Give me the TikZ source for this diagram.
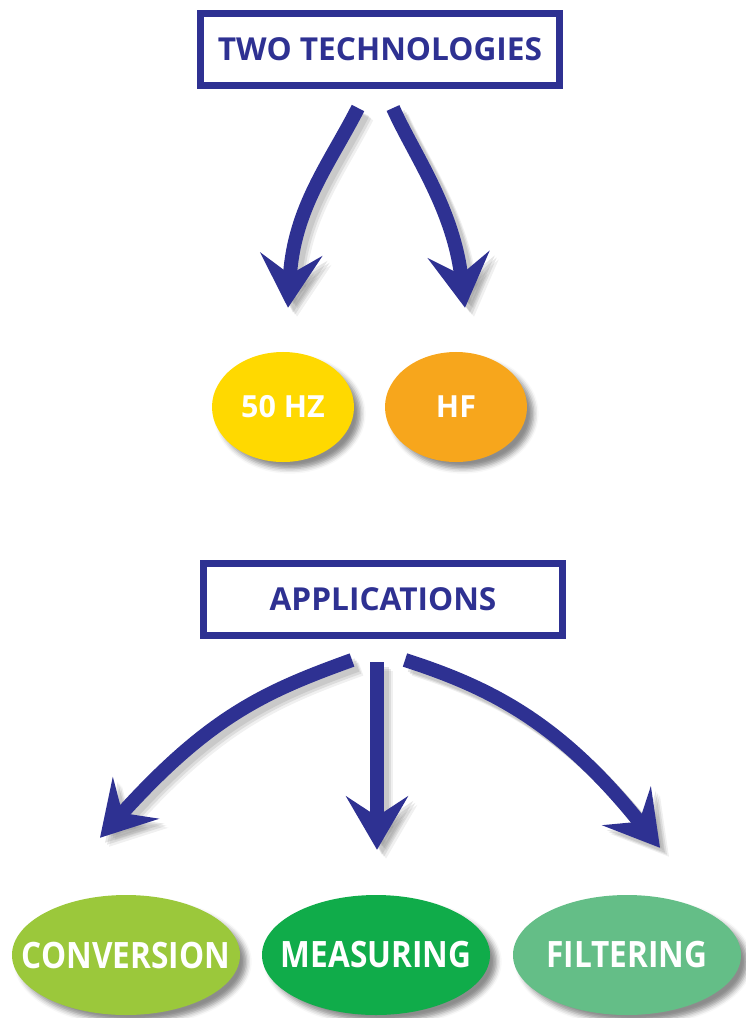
\documentclass[tikz,border=0pt]{standalone}
\usepackage{fontspec}
\setmainfont{Open Sans}
\newfontfamily\condfont[FakeStretch=0.87]{Open Sans}
\usepackage{tikz}
\usetikzlibrary{calc}
\usetikzlibrary{arrows.meta}
\usetikzlibrary{shapes.geometric}
\usetikzlibrary{shadows.blur}
\definecolor{navy}{RGB}{46,49,146}
\definecolor{hzyellow}{RGB}{255,217,0}
\definecolor{hforange}{RGB}{247,166,28}
\definecolor{convgreen}{RGB}{155,200,59}
\definecolor{measgreen}{RGB}{16,172,74}
\definecolor{filtgreen}{RGB}{100,190,135}

\begin{document}
\begin{tikzpicture}[x=0.03cm,y=-0.03cm,
  titlebox/.style={draw=navy,line width=6pt,minimum width=10.77cm,minimum height=2.16cm,inner sep=0pt,text=navy,font=\bfseries\fontsize{27}{32}\selectfont},
  disc/.style={ellipse,minimum width=4.26cm,minimum height=3.3cm,inner sep=0pt,text=white,font=\bfseries\fontsize{26}{30}\selectfont,
    blur shadow={shadow xshift=0.2cm,shadow yshift=-0.2cm,shadow blur radius=0.15cm,shadow opacity=45}},
  bigdisc/.style={disc,minimum width=6.84cm,minimum height=3.6cm,inner xsep=-1.5cm,inner ysep=-0.3cm,font=\condfont\bfseries\fontsize{31}{36}\selectfont},
  flow/.style={line width=0.42cm,-{Stealth[length=1.6cm,width=1.85cm,inset=0.6cm]}}]
  \useasboundingbox (0,0) rectangle (745,1018);

  \node[titlebox] (tech) at (380,49.5) {TWO TECHNOLOGIES};
  \node[disc,fill=hzyellow] (hz) at (283,407) {50 HZ};
  \node[disc,fill=hforange] (hf) at (456,407) {HF};

  \node[titlebox] (app) at (383,599.5) {APPLICATIONS};
  \node[bigdisc,fill=convgreen] (conv) at (126,955) {CONVERSION};
  \node[bigdisc,fill=measgreen] (meas) at (376,955) {MEASURING};
  \node[bigdisc,fill=filtgreen] (filt) at (627,955) {FILTERING};

  % arrow ends
  \coordinate (techl) at ($(tech.south)+(-22,19)$);
  \coordinate (techr) at ($(tech.south)+(13,19)$);
  \coordinate (hztip) at ($(hz.north)+(5,-44)$);
  \coordinate (hftip) at ($(hf.north)+(9,-44)$);
  \coordinate (appl) at ($(app.south)+(-31,21)$);
  \coordinate (appm) at ($(app.south)+(-6,23)$);
  \coordinate (appr) at ($(app.south)+(22,21)$);
  \coordinate (convtip) at ($(conv.north)+(-26,-57)$);
  \coordinate (meastip) at ($(meas.north)+(1,-45)$);
  \coordinate (filttip) at ($(filt.north)+(33,-47)$);

  % shadow layers first, then the blue arrows
  \foreach \d/\c/\o in {0.27/gray/0.12, 0.21/gray/0.18, 0.15/gray/0.2, 0/navy/1}
  {
    \begin{scope}[transform canvas={xshift=\d cm,yshift=-\d cm},flow,draw=\c,opacity=\o]
      \draw (techl) .. controls +(-28,55) and +(6,-100) .. (hztip);
      \draw (techr) .. controls +(20,45) and +(-12,-100) .. (hftip);
      \draw (appl) .. controls +(-86,31) and +(110,-122) .. (convtip);
      \draw (appm) -- (meastip);
      \draw (appr) .. controls +(87,28) and +(-99,-124) .. (filttip);
    \end{scope}
  }
\end{tikzpicture}
\end{document}
